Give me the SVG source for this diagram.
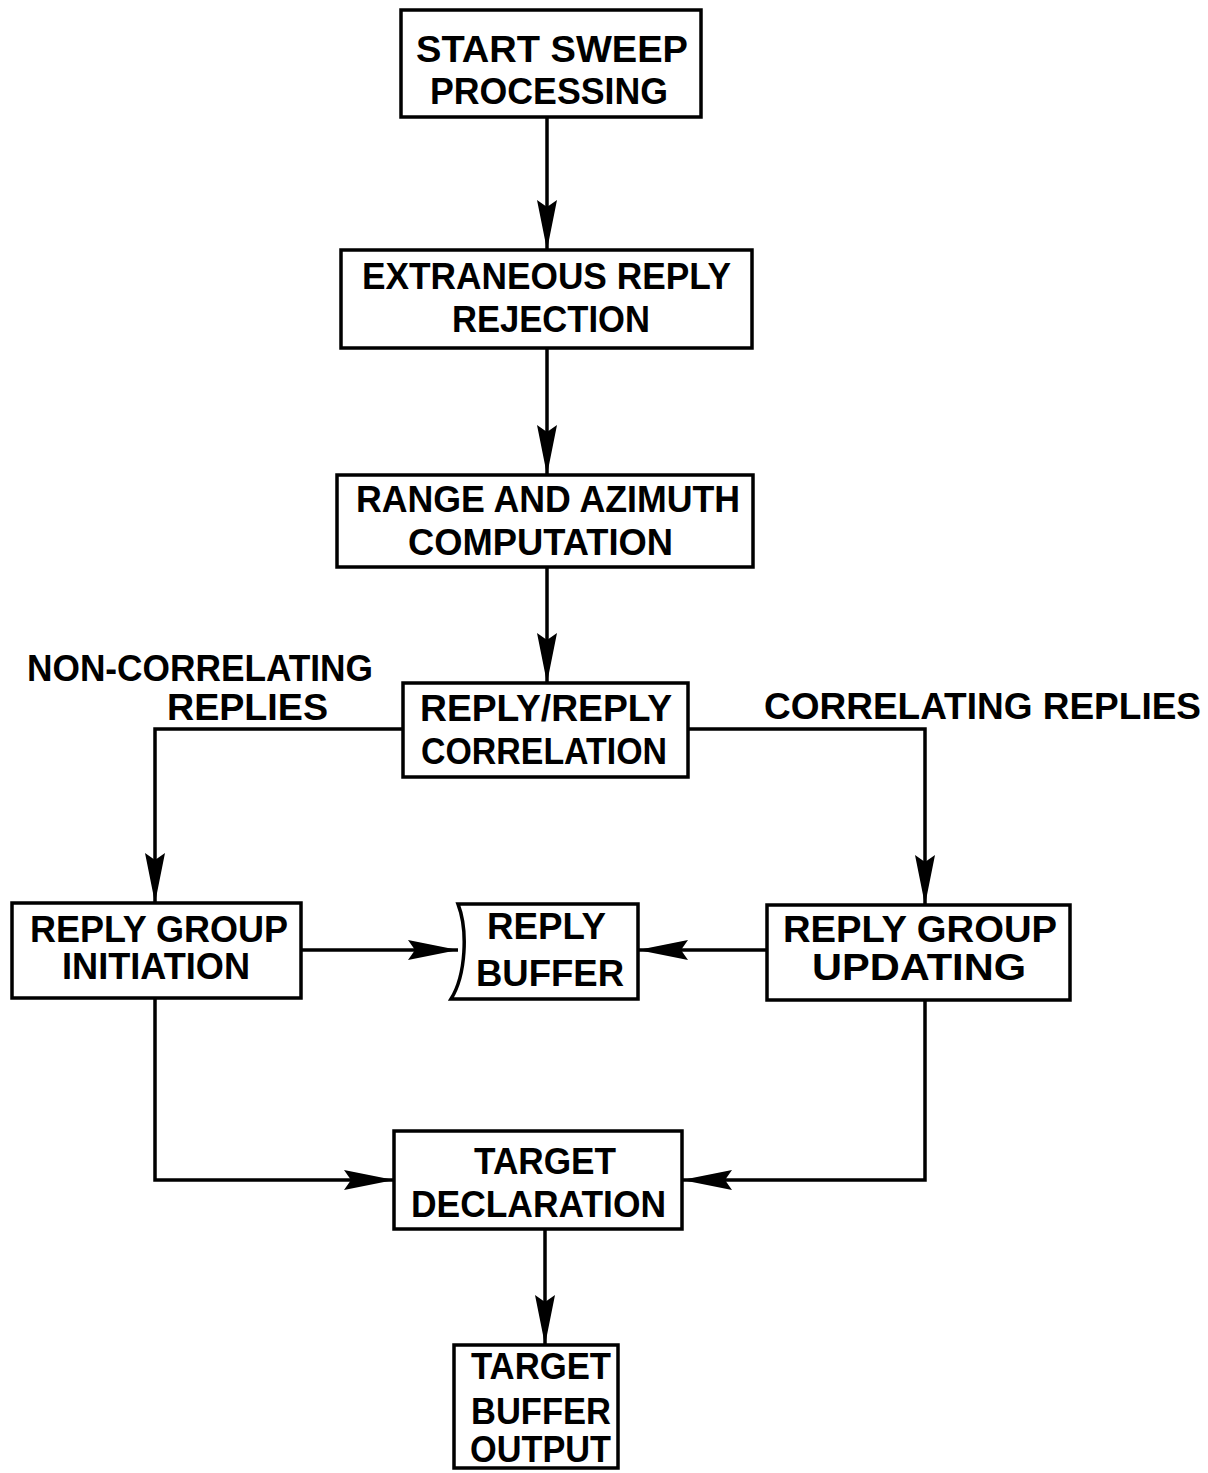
<svg xmlns="http://www.w3.org/2000/svg" width="1208" height="1473" viewBox="0 0 1208 1473">
<defs>
<marker id="ah" markerUnits="userSpaceOnUse" viewBox="-50 -12 52 24" refX="0" refY="0" markerWidth="52" markerHeight="24" orient="auto">
<path d="M0,0 L-50,-10 L-43,0 L-50,10 Z" fill="#000"/>
</marker>
</defs>
<style>
.box{fill:#fff;stroke:#000;stroke-width:3.5}
.ln{fill:none;stroke:#000;stroke-width:3.5;marker-end:url(#ah)}
text{font-family:"Liberation Sans",Arial,sans-serif;font-weight:bold;font-size:37px;fill:#000}
</style>
<rect width="1208" height="1473" fill="#fff"/>
<g id="connectors">
<line class="ln" x1="547" y1="117" x2="547" y2="250"/>
<line class="ln" x1="547" y1="348" x2="547" y2="475"/>
<line class="ln" x1="547" y1="567" x2="547" y2="683"/>
<polyline class="ln" points="403,729 155,729 155,903"/>
<polyline class="ln" points="688,729 925,729 925,905"/>
<line class="ln" x1="301" y1="950" x2="458" y2="950"/>
<line class="ln" x1="767" y1="950" x2="638" y2="950"/>
<polyline class="ln" points="155,998 155,1180 394,1180"/>
<polyline class="ln" points="925,1000 925,1180 682,1180"/>
<line class="ln" x1="545" y1="1229" x2="545" y2="1345"/>
</g>
<g id="n1"><rect class="box" x="401" y="10" width="300" height="107"/>
<text x="416" y="62" textLength="272" lengthAdjust="spacingAndGlyphs">START SWEEP</text>
<text x="430" y="104" textLength="238" lengthAdjust="spacingAndGlyphs">PROCESSING</text></g>
<g id="n2"><rect class="box" x="341" y="250" width="411" height="98"/>
<text x="362" y="289" textLength="369" lengthAdjust="spacingAndGlyphs">EXTRANEOUS REPLY</text>
<text x="452" y="332" textLength="198" lengthAdjust="spacingAndGlyphs">REJECTION</text></g>
<g id="n3"><rect class="box" x="337" y="475" width="416" height="92"/>
<text x="356" y="512" textLength="384" lengthAdjust="spacingAndGlyphs">RANGE AND AZIMUTH</text>
<text x="408" y="555" textLength="265" lengthAdjust="spacingAndGlyphs">COMPUTATION</text></g>
<g id="n4"><rect class="box" x="403" y="683" width="285" height="94"/>
<text x="420" y="721" textLength="252" lengthAdjust="spacingAndGlyphs">REPLY/REPLY</text>
<text x="421" y="764" textLength="246" lengthAdjust="spacingAndGlyphs">CORRELATION</text></g>
<g id="n5"><rect class="box" x="12" y="903" width="289" height="95"/>
<text x="30" y="942" textLength="258" lengthAdjust="spacingAndGlyphs">REPLY GROUP</text>
<text x="62" y="979" textLength="188" lengthAdjust="spacingAndGlyphs">INITIATION</text></g>
<g id="n6"><path class="box" d="M458,904 L638,904 L638,999 L451,999 C466,975 468,930 458,904 Z"/>
<text x="487" y="939" textLength="119" lengthAdjust="spacingAndGlyphs">REPLY</text>
<text x="476" y="986" textLength="148" lengthAdjust="spacingAndGlyphs">BUFFER</text></g>
<g id="n7"><rect class="box" x="767" y="905" width="303" height="95"/>
<text x="783" y="942" textLength="274" lengthAdjust="spacingAndGlyphs">REPLY GROUP</text>
<text x="812" y="980" textLength="214" lengthAdjust="spacingAndGlyphs">UPDATING</text></g>
<g id="n8"><rect class="box" x="394" y="1131" width="288" height="98"/>
<text x="474" y="1174" textLength="142" lengthAdjust="spacingAndGlyphs">TARGET</text>
<text x="411" y="1217" textLength="255" lengthAdjust="spacingAndGlyphs">DECLARATION</text></g>
<g id="n9"><rect class="box" x="454" y="1345" width="164" height="123"/>
<text x="471" y="1379" textLength="140" lengthAdjust="spacingAndGlyphs">TARGET</text>
<text x="471" y="1424" textLength="140" lengthAdjust="spacingAndGlyphs">BUFFER</text>
<text x="470" y="1462" textLength="141" lengthAdjust="spacingAndGlyphs">OUTPUT</text></g>
<g id="labels">
<text x="27" y="681" textLength="346" lengthAdjust="spacingAndGlyphs">NON-CORRELATING</text>
<text x="167" y="720" textLength="161" lengthAdjust="spacingAndGlyphs">REPLIES</text>
<text x="764" y="719" textLength="437" lengthAdjust="spacingAndGlyphs">CORRELATING REPLIES</text>
</g>
</svg>
